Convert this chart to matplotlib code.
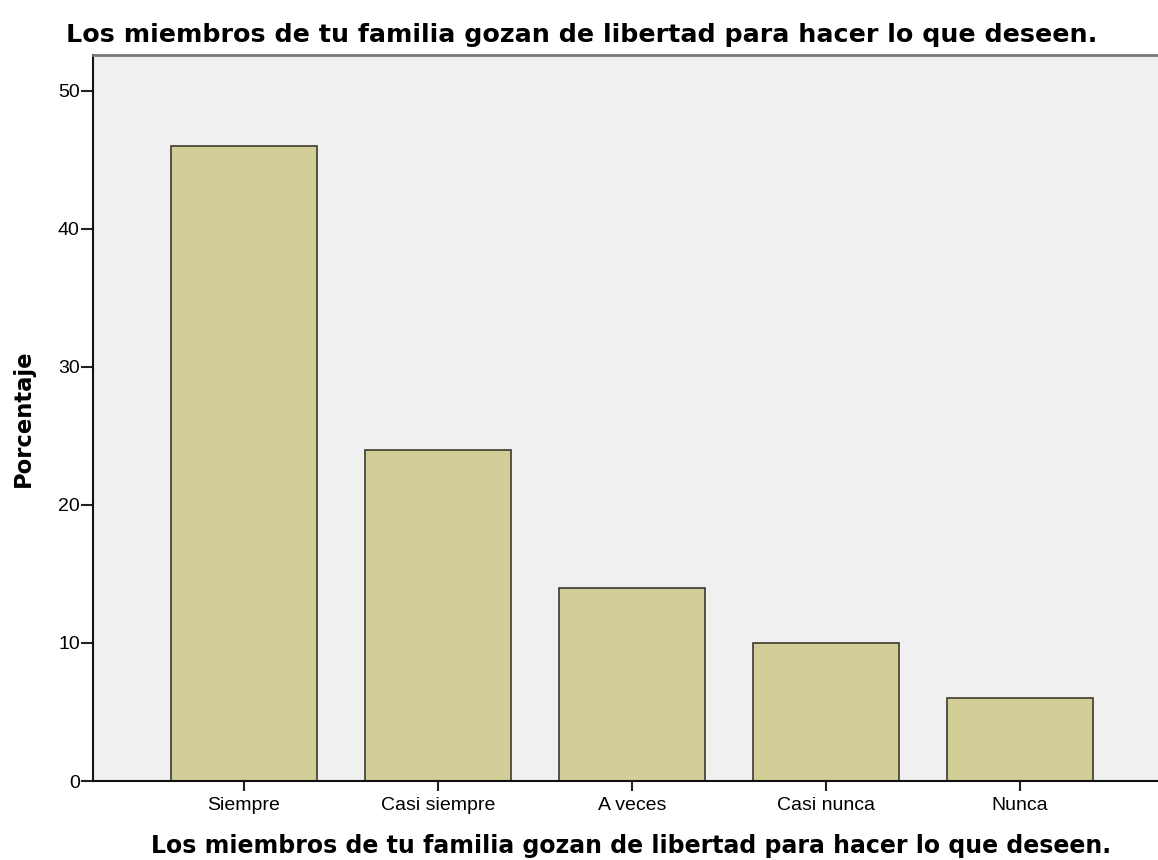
import matplotlib
matplotlib.use("Agg")
import matplotlib.pyplot as plt
import numpy as np

# data
categorias = ["Siempre", "Casi siempre", "A veces", "Casi nunca", "Nunca"]
porcentajes = [46, 24, 14, 10, 6]
titulo = "Los miembros de tu familia gozan de libertad para hacer lo que deseen."

plt.rcParams['font.family'] = ['Liberation Sans', 'DejaVu Sans']

fig = plt.figure(figsize=(11.58, 8.60), dpi=100)
ax = fig.add_axes([93/1158, 79/860, 1 - 93/1158, 726/860])
ax.set_facecolor("#F0F0F0")

x = np.arange(len(categorias))
ax.bar(x, porcentajes, width=0.753, color="#D3CE97", edgecolor="#3a3a30", linewidth=1.2, zorder=2)

ax.set_xlim(-0.778, 4.711)
ax.set_ylim(0, 52.6)
ax.set_yticks([0, 10, 20, 30, 40, 50])
ax.set_xticks(x)
ax.set_xticklabels(categorias, fontsize=14)
ax.tick_params(axis='y', labelsize=14, length=8.5, width=1.5, pad=1, color="#222222")
ax.tick_params(axis='x', length=7.5, width=1.5, pad=4, color="#222222")

ax.spines["right"].set_visible(False)
ax.spines["top"].set_color("#777777")
ax.spines["top"].set_linewidth(2)
for s in ["left", "bottom"]:
    ax.spines[s].set_linewidth(1.5)
    ax.spines[s].set_color("#111111")

# axis titles placed in figure pixels
fig.text(23/1158, 1 - 418/860, "Porcentaje", rotation=90, ha='center', va='center',
         fontsize=16.3, fontweight='bold', family='DejaVu Sans')
fig.text(631/1158, 1 - 846/860, titulo, ha='center', va='center', fontsize=17,
         fontweight='bold', family='DejaVu Sans')
fig.text(582/1158, 1 - 35/860, titulo, ha='center', va='center', fontsize=18.3,
         fontweight='bold', family='DejaVu Sans')

fig.savefig("out.png", dpi=100)
